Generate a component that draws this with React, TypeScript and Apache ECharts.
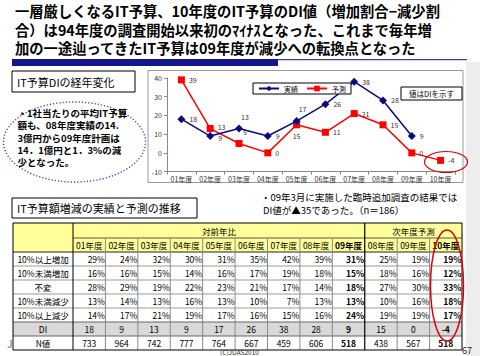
import React, { useEffect, useRef } from "react";
import * as echarts from "echarts";

const FONT = '"Noto Sans CJK JP", "Noto Sans", sans-serif';

const titleLines = [
  "一層厳しくなるIT予算、10年度のIT予算のDI値（増加割合−減少割",
  "合）は94年度の調査開始以来初のﾏｲﾅｽとなった、これまで毎年増",
  "加の一途辿ってきたIT予算は09年度が減少への転換点となった",
];
const box1Title = "IT予算DIの経年変化";
const box2Title = "IT予算額増減の実績と予測の推移";
const noteLines = [
  "・1社当たりの平均IT予算",
  "額も、08年度実績の14.",
  "3億円から09年度計画は",
  "14．1億円と1．3%の減",
  "少となった。",
];
const surveyLines = [
  "・09年3月に実施した臨時追加調査の結果では",
  "DI値が▲35であった。（n＝186）",
];
const valueNote = "値はDIを示す";

// Line chart
const chartCategories = ["01年度", "02年度", "03年度", "04年度", "05年度", "06年度", "07年度", "08年度", "09年度", "10年度"];
const actualDI: (number | null)[] = [18, 9, 13, 9, 17, 26, 38, 28, 9, null];
const forecastDI: number[] = [39, 13, 5, 0, 15, 11, 21, 15, 0, -4];
const yMin = -10;
const yMax = 40;
const yInterval = 10;
const actualLabelPos = ["right", "right", "top", "right", "top", "right", "right", "right", "right", "right"];
const forecastLabelPos = ["right", "right", "top", "right", "bottom", "right", "right", "right", "right", "right"];
const actualLabelShift = [0, 1.5, 0, 0, 0, 0, 0, 0, 0, 0];
const forecastLabelShift = [0, -1.5, 0, 0, 0, 0, 0, 0, 0, 0];

// Table
const tableHeaderGroups = ["対前年比", "次年度予測"];
const tableColumns = ["01年度", "02年度", "03年度", "04年度", "05年度", "06年度", "07年度", "08年度", "09年度", "08年度", "09年度", "10年度"];
const boldColumns = [8, 11];
const rowLabels = ["10%以上増加", "10%未満増加", "不変", "10%未満減少", "10%以上減少"];
const inc10Plus = [29, 24, 32, 30, 31, 35, 42, 39, 31, 25, 19, 19];
const incUnder10 = [16, 16, 15, 14, 16, 17, 19, 18, 15, 18, 16, 12];
const unchanged = [28, 29, 19, 22, 23, 21, 17, 14, 18, 27, 30, 33];
const decUnder10 = [13, 14, 13, 16, 13, 10, 7, 13, 13, 10, 16, 18];
const dec10Plus = [14, 17, 21, 19, 17, 16, 15, 16, 24, 19, 19, 17];
const diRow = [18, 9, 13, 9, 17, 26, 38, 28, 9, 15, 0, -4];
const nRow = [733, 964, 742, 777, 764, 667, 459, 606, 518, 438, 567, 518];
const diLabel = "DI";
const nLabel = "N値";
const footer = "(C)JUAS2010";
const pageNo = "67";

function txt(x: number, y: number, text: string, o: any = {}) {
  const align = o.align || "left";
  const va = o.va || "middle";
  const style: any = {
    text,
    fontSize: o.size ?? 9,
    fontFamily: FONT,
    fontWeight: o.bold ? "bold" : "normal",
    fill: o.color ?? "#000",
    align,
    textAlign: align,
    verticalAlign: va,
    textVerticalAlign: va,
  };
  if (o.lh) style.lineHeight = o.lh;
  return { type: "text", x, y, z: o.z ?? 10, style };
}

function line(x1: number, y1: number, x2: number, y2: number, color: string, w = 1, z = 6) {
  return { type: "line", z, shape: { x1, y1, x2, y2 }, style: { stroke: color, lineWidth: w } };
}

function buildGraphics() {
  const g: any[] = [];
  // right side background
  g.push({ type: "rect", z: 0, shape: { x: 466, y: 62, width: 14, height: 294 }, style: { fill: "#ededed" } });

  // Title
  titleLines.forEach((t, i) => g.push(txt(15, 10.3 + i * 18.7, t, { size: 14.3, bold: true, lh: 18 })));
  g.push({ type: "rect", z: 5, shape: { x: 12, y: 59, width: 266, height: 7 }, style: { fill: "#15158C" } });
  g.push({ type: "rect", z: 5, shape: { x: 278, y: 59, width: 189, height: 1.2 }, style: { fill: "#3C3CA0" } });

  // Box 1
  g.push({ type: "rect", z: 5, shape: { x: 12, y: 71, width: 123, height: 21 }, style: { fill: "#fff", stroke: "#000", lineWidth: 1 } });
  g.push(txt(17, 81.5, box1Title, { size: 11, lh: 13 }));

  // dotted ellipse note (one multi-line text block)
  g.push({ type: "ellipse", z: 5, shape: { cx: 74.5, cy: 142, rx: 71, ry: 40 }, style: { fill: "none", stroke: "#2A45D0", lineWidth: 1.4, lineDash: [1.2, 2] } });
  g.push(txt(17.5, 107, noteLines.join("\n"), { size: 9.5, bold: true, lh: 12.2, va: "top" }));

  // chart box
  g.push({ type: "rect", z: 1, shape: { x: 148, y: 70.5, width: 315, height: 112 }, style: { fill: "#fff", stroke: "#9a9a9a", lineWidth: 1 } });
  // value note box
  g.push({ type: "rect", z: 20, shape: { x: 401, y: 87, width: 61, height: 13 }, style: { fill: "#fff", stroke: "#000", lineWidth: 1 } });
  g.push(txt(431.5, 93.5, valueNote, { size: 7.5, align: "center", z: 21, lh: 9 }));
  // red ellipse around -4
  g.push({ type: "ellipse", z: 20, shape: { cx: 446, cy: 162, rx: 21.5, ry: 10.5 }, style: { fill: "none", stroke: "#E00000", lineWidth: 1.2 } });

  // survey note
  surveyLines.forEach((t, i) => g.push(txt(i === 0 ? 261 : 263, 197 + i * 12.5, t, { size: 9.5, lh: 11.5 })));

  // Box 2
  g.push({ type: "rect", z: 5, shape: { x: 12, y: 198, width: 185, height: 20 }, style: { fill: "#fff", stroke: "#000", lineWidth: 1 } });
  g.push(txt(17, 208, box2Title, { size: 11, lh: 13 }));

  // Table
  const x0 = 13, xL = 73, xR = 462;
  const colW = (xR - xL) / tableColumns.length;
  const rowsY = [223, 238, 252, 266, 280, 294, 308, 322, 336, 350];
  const colX = (i: number) => xL + i * colW;
  g.push({ type: "rect", z: 4, shape: { x: x0, y: rowsY[0], width: xR - x0, height: rowsY[9] - rowsY[0] }, style: { fill: "#fff" } });
  g.push({ type: "rect", z: 4, shape: { x: x0, y: rowsY[0], width: xR - x0, height: rowsY[2] - rowsY[0] }, style: { fill: "#FFFF99" } });
  g.push({ type: "rect", z: 4, shape: { x: x0, y: rowsY[7], width: xR - x0, height: rowsY[8] - rowsY[7] }, style: { fill: "#D9D9D9" } });
  // horizontal lines
  g.push(line(xL, rowsY[1], xR, rowsY[1], "#555"));
  g.push(line(x0, rowsY[2], xR, rowsY[2], "#222"));
  for (let r = 3; r <= 8; r++) g.push(line(x0, rowsY[r], xR, rowsY[r], r >= 7 ? "#666" : "#9a9a9a"));
  // vertical lines
  for (let c = 1; c < tableColumns.length; c++) {
    if (c === 9) continue;
    g.push(line(colX(c), rowsY[1], colX(c), rowsY[9], "#8a8a8a"));
  }
  g.push(line(xL, rowsY[0], xL, rowsY[9], "#000"));
  g.push(line(colX(9), rowsY[0], colX(9), rowsY[9], "#000", 1.2));
  g.push({ type: "rect", z: 7, shape: { x: x0, y: rowsY[0], width: xR - x0, height: rowsY[9] - rowsY[0] }, style: { fill: "none", stroke: "#000", lineWidth: 1 } });

  // header texts
  const hy = (rowsY[0] + rowsY[1]) / 2;
  g.push(txt((xL + colX(9)) / 2, hy, tableHeaderGroups[0], { size: 8.5, align: "center", lh: 11 }));
  g.push(txt((colX(9) + xR) / 2, hy, tableHeaderGroups[1], { size: 8.5, align: "center", lh: 11 }));
  const h2 = (rowsY[1] + rowsY[2]) / 2;
  tableColumns.forEach((c, i) =>
    g.push(txt(colX(i) + colW / 2, h2, c, { size: 8.5, align: "center", bold: boldColumns.includes(i), lh: 11 }))
  );
  const pctRows = [inc10Plus, incUnder10, unchanged, decUnder10, dec10Plus];
  pctRows.forEach((vals, r) => {
    const cy = (rowsY[r + 2] + rowsY[r + 3]) / 2;
    g.push(txt((x0 + xL) / 2, cy, rowLabels[r], { size: 8.5, align: "center", lh: 11 }));
    vals.forEach((v, i) =>
      g.push(txt(colX(i + 1) - 0.5, cy, v + "%", { size: 8.5, align: "right", bold: boldColumns.includes(i), lh: 11 }))
    );
  });
  const dy = (rowsY[7] + rowsY[8]) / 2;
  g.push(txt((x0 + xL) / 2, dy, diLabel, { size: 8.5, align: "center", lh: 11 }));
  diRow.forEach((v, i) => g.push(txt(colX(i) + colW / 2, dy, String(v), { size: 8.5, align: "center", bold: boldColumns.includes(i), lh: 11 })));
  const ny = (rowsY[8] + rowsY[9]) / 2;
  g.push(txt((x0 + xL) / 2, ny, nLabel, { size: 8.5, align: "center", lh: 11 }));
  nRow.forEach((v, i) => g.push(txt(colX(i) + colW / 2, ny, String(v), { size: 8.5, align: "center", bold: boldColumns.includes(i), lh: 11 })));

  // red ellipse around 10年度 column
  g.push({ type: "ellipse", z: 20, shape: { cx: 447, cy: 285.5, rx: 16.5, ry: 55.5 }, style: { fill: "none", stroke: "#E00000", lineWidth: 1.5 } });

  // footer
  g.push(txt(239.5, 352.3, footer, { size: 6.5, align: "center", color: "#222", lh: 7 }));
  g.push(txt(467, 350.5, pageNo, { size: 9, align: "center", color: "#222", lh: 10 }));
  g.push(txt(7, 343, "J", { size: 10, bold: true, color: "#8aa0c8", z: 3, lh: 11 }));
  return g;
}

export default function App() {
  const ref = useRef<HTMLDivElement>(null);
  useEffect(() => {
    if (!ref.current) return;
    const chart = echarts.init(ref.current, undefined, { renderer: "svg" });
    const labelStyle = { fontSize: 7, lineHeight: 8, color: "#333", fontFamily: FONT, distance: 4 };
    chart.setOption({
      animation: false,
      backgroundColor: "#fff",
      textStyle: { fontFamily: FONT },
      graphic: { elements: buildGraphics() },
      legend: {
        data: ["実績", "予測"],
        left: 253,
        top: 83,
        z: 20,
        itemWidth: 20,
        itemHeight: 7,
        itemGap: 8,
        padding: [2, 5],
        borderColor: "#000",
        borderWidth: 1,
        backgroundColor: "#fff",
        textStyle: { fontSize: 7, color: "#000", fontFamily: FONT },
      },
      grid: { left: 167, top: 78, width: 288, height: 93.6, z: 3 },
      xAxis: {
        type: "category",
        data: chartCategories,
        boundaryGap: true,
        axisLine: { onZero: false, lineStyle: { color: "#888" } },
        axisTick: { show: true, lineStyle: { color: "#888" }, length: 3 },
        axisLabel: { fontSize: 7, color: "#333", margin: 4, fontFamily: FONT },
        z: 3,
      },
      yAxis: {
        type: "value",
        min: yMin,
        max: yMax,
        interval: yInterval,
        axisLine: { show: true, lineStyle: { color: "#888" } },
        axisTick: { show: true, lineStyle: { color: "#888" }, length: 3 },
        splitLine: { show: false },
        axisLabel: { fontSize: 7, color: "#333", margin: 5, fontFamily: FONT },
        z: 3,
      },
      series: [
        {
          name: "実績",
          type: "line",
          z: 5,
          data: actualDI.map((v, i) => ({
            value: v,
            label: {
              position: actualLabelPos[i],
              offset: [actualLabelPos[i] === "top" ? 6 : 0, actualLabelShift[i]],
            },
          })),
          symbol: "diamond",
          symbolSize: 8,
          itemStyle: { color: "#0A0A80" },
          lineStyle: { color: "#0A0A80", width: 1.5 },
          label: { show: true, ...labelStyle },
        },
        {
          name: "予測",
          type: "line",
          z: 4,
          data: forecastDI.map((v, i) => ({
            value: v,
            label: {
              position: forecastLabelPos[i],
              offset: [forecastLabelPos[i] === "top" ? 6 : 0, forecastLabelShift[i]],
            },
          })),
          symbol: "rect",
          symbolSize: 7,
          itemStyle: { color: "#FF0000" },
          lineStyle: { color: "#FF0000", width: 1.5 },
          label: { show: true, ...labelStyle },
        },
      ],
    });
    return () => chart.dispose();
  }, []);
  return (
    <div
      ref={ref}
      style={{ position: "absolute", left: 0, top: 0, width: 480, height: 356, background: "#fff" }}
    />
  );
}
